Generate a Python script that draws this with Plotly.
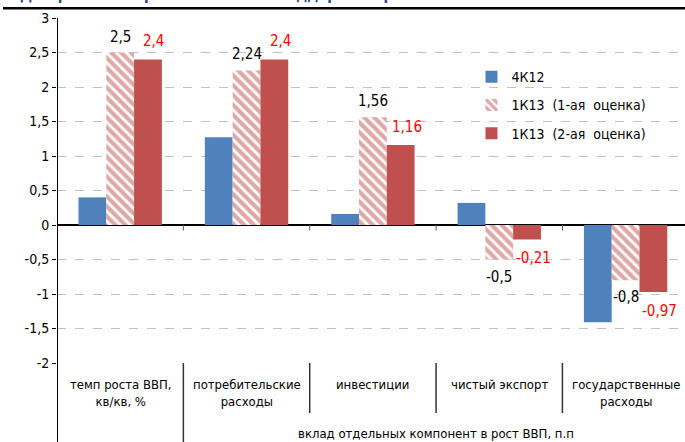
import plotly.graph_objects as go

# ---- data ----
categories = ["темп роста ВВП,<br>кв/кв, %", "потребительские<br>расходы", "инвестиции",
              "чистый экспорт", "государственные<br>расходы"]
group_label = "вклад отдельных компонент в рост ВВП, п.п"
title_text = "Диаграмма: потребители в США поддержали рост экономики в 1К2013"
series_names = ["4К12", "1К13  (1-ая  оценка)", "1К13  (2-ая  оценка)"]
q4_12 = [0.4, 1.27, 0.16, 0.32, -1.41]
q1_13_first = [2.5, 2.24, 1.56, -0.5, -0.8]
q1_13_second = [2.4, 2.4, 1.16, -0.21, -0.97]
y_ticks = [3, 2.5, 2, 1.5, 1, 0.5, 0, -0.5, -1, -1.5, -2]
y_tick_labels = ["3", "2,5", "2", "1,5", "1", "0,5", "0", "-0,5", "-1", "-1,5", "-2"]

FONT = "Liberation Sans Narrow, Arial Narrow, DejaVu Sans Condensed, sans-serif"
BLUE = "#4f81bd"
RED = "#c0504d"

xs = list(range(len(categories)))
BARGAP = 0.34
BW = (1 - BARGAP) / 3


def fmt(v):
    return f"{v:g}".replace(".", ",")


fig = go.Figure()
fig.add_trace(go.Bar(x=xs, y=q4_12, name=series_names[0], marker=dict(color=BLUE, line=dict(width=0)),
                     legendgroup="a"))
fig.add_trace(go.Bar(x=xs, y=q1_13_first, name=series_names[1],
                     marker=dict(color=RED, line=dict(width=0),
                                 pattern=dict(shape="\\", size=7, solidity=0.6, fgcolor=RED, bgcolor="white")),
                     legendgroup="b"))
fig.add_trace(go.Bar(x=xs, y=q1_13_second, name=series_names[2], marker=dict(color=RED, line=dict(width=0)),
                     legendgroup="c"))

annotations = []
for i, v in enumerate(q1_13_first):
    annotations.append(dict(x=xs[i], y=v, xref="x", yref="y", text=fmt(v), showarrow=False,
                            yanchor="bottom" if v >= 0 else "top", yshift=5 if v >= 0 else -6,
                            font=dict(family=FONT, size=15, color="black")))
for i, v in enumerate(q1_13_second):
    annotations.append(dict(x=xs[i] + BW, y=v, xref="x", yref="y", text=fmt(v), showarrow=False,
                            yanchor="bottom" if v >= 0 else "top", yshift=7 if v >= 0 else -8, xshift=6,
                            font=dict(family=FONT, size=15, color="#ff0000")))
# category labels
for i, c in enumerate(categories):
    annotations.append(dict(x=xs[i], y=0, xref="x", yref="paper", text=c, showarrow=False,
                            yanchor="top", yshift=-12,
                            font=dict(family=FONT, size=13, color="black")))
annotations.append(dict(x=2.5, y=0, xref="x", yref="paper", text=group_label, showarrow=False,
                        yanchor="middle", yshift=-70, font=dict(family=FONT, size=13, color="black")))
# clipped title
annotations.append(dict(x=-0.5, y=1, xref="x", yref="paper", text="<b>" + title_text + "</b>",
                        showarrow=False, xanchor="left", yanchor="bottom", xshift=-39, yshift=12,
                        font=dict(family=FONT, size=15, color="#1f497d")))

shapes = []
# y axis line extending below plot
shapes.append(dict(type="line", xref="x", yref="paper", x0=-0.5, x1=-0.5, y0=1, y1=-0.25,
                   line=dict(color="black", width=2)))
# category dividers
for k, xv in enumerate([0.5, 1.5, 2.5, 3.5]):
    shapes.append(dict(type="line", xref="x", yref="paper", x0=xv, x1=xv, y0=0,
                       y1=-0.25 if k == 0 else -0.145, line=dict(color="#333333", width=1.5)))
    # small tick marks under zero line
    shapes.append(dict(type="line", xref="x", yref="y", x0=xv, x1=xv, y0=0, y1=-0.08,
                       line=dict(color="#555555", width=1)))
# top rule (above the plot area)
shapes.append(dict(type="line", xref="x", yref="paper", x0=-0.93, x1=4.47, y0=1.028, y1=1.028,
                   line=dict(color="black", width=2.5)))
shapes.append(dict(type="line", xref="paper", yref="paper", x0=-0.086, x1=0.0, y0=1.028, y1=1.028,
                   line=dict(color="black", width=2.5)))

fig.update_layout(
    width=685, height=442,
    margin=dict(l=57, r=0, t=18, b=79),
    paper_bgcolor="white", plot_bgcolor="white",
    barmode="group", bargap=BARGAP, bargroupgap=0,
    separators=", ",
    font=dict(family=FONT, size=13, color="black"),
    showlegend=True,
    legend=dict(x=0.66, y=0.875, xanchor="left", yanchor="top", bgcolor="rgba(0,0,0,0)",
                font=dict(family=FONT, size=14, color="black"), tracegroupgap=7, itemwidth=30),
    xaxis=dict(range=[-0.5, 4.47], showticklabels=False, showgrid=False, zeroline=False, showline=False,
               ticks=""),
    yaxis=dict(range=[-2, 3], tickvals=y_ticks, ticktext=y_tick_labels, showgrid=True,
               gridcolor="#c0c0c0", griddash="dash", gridwidth=1,
               zeroline=True, zerolinecolor="black", zerolinewidth=2, showline=False,
               ticks="outside", ticklen=4, tickcolor="black", tickwidth=1,
               tickfont=dict(family=FONT, size=14, color="black")),
    annotations=annotations,
    shapes=shapes,
)

fig.write_html("out.html", config={"displayModeBar": False},
               post_script="document.body.style.margin='0';document.body.style.overflow='hidden';")
